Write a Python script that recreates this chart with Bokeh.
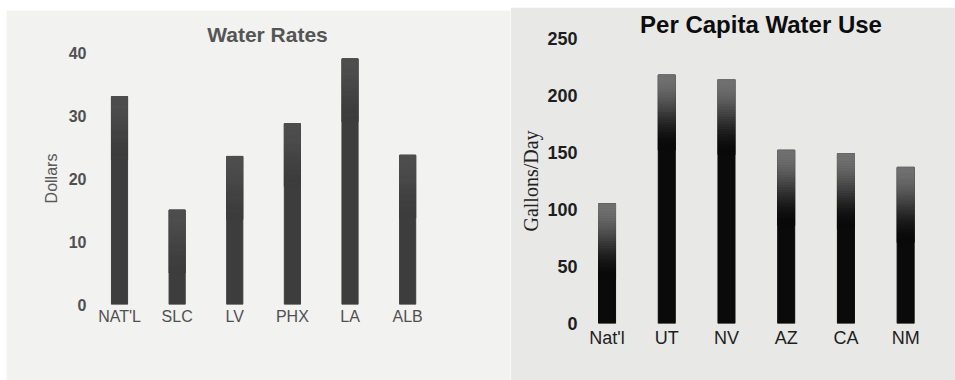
from bokeh.plotting import figure
from bokeh.layouts import row
from bokeh.models import Range1d, FixedTicker
from bokeh.embed import file_html
from bokeh.resources import INLINE

# Water rates by city (dollars)
rate_cities = ["NAT'L", "SLC", "LV", "PHX", "LA", "ALB"]
rate_dollars = [33, 15, 23.5, 28.7, 39, 23.7]
rate_ticks = [0, 10, 20, 30, 40]

# Per capita water use by region (gallons per day)
use_regions = ["Nat'l", "UT", "NV", "AZ", "CA", "NM"]
use_gallons = [105, 218, 214, 152, 149, 137]
use_ticks = [0, 50, 100, 150, 200, 250]


def mix(c0, c1, f):
    r = [round(a + (b - a) * f) for a, b in zip(c0, c1)]
    return "#%02x%02x%02x" % tuple(r)


def gradient_segments(values, depth, top_rgb, base_rgb, steps=30):
    """Split the top part of each bar into thin slices shading from top_rgb to base_rgb."""
    xs, bottoms, tops, colors = [], [], [], []
    for i, v in enumerate(values):
        d = min(depth, v)
        for k in range(steps):
            t = k / (steps - 1)
            ease = t * t * (3 - 2 * t)
            xs.append(i)
            tops.append(v - d * k / steps)
            bottoms.append(v - d * (k + 1) / steps)
            colors.append(mix(top_rgb, base_rgb, ease))
    return dict(x=xs, top=tops, bottom=bottoms, color=colors)


def style(p, labels, ticks, tick_color, tick_size, font, label_size, bg):
    p.xaxis.ticker = FixedTicker(ticks=list(range(len(labels))))
    p.xaxis.major_label_overrides = {i: lab for i, lab in enumerate(labels)}
    p.yaxis.ticker = FixedTicker(ticks=ticks)
    for ax in (p.xaxis, p.yaxis):
        ax.axis_line_color = None
        ax.major_tick_line_color = None
        ax.minor_tick_line_color = None
        ax.major_tick_out = 0
        ax.major_tick_in = 0
        ax.minor_tick_out = 0
        ax.minor_tick_in = 0
        ax.major_label_text_font = font
        ax.major_label_text_color = tick_color
    p.xaxis.major_label_text_font_size = label_size
    p.yaxis.major_label_text_font_size = tick_size
    p.yaxis.major_label_text_font_style = "bold"
    p.xgrid.grid_line_color = None
    p.ygrid.grid_line_color = None
    p.background_fill_color = bg
    p.border_fill_color = bg
    p.outline_line_color = bg
    p.outline_line_width = 2
    p.frame_align = False


# ---- Water Rates ----
left = figure(width=504, height=370, output_backend="svg", toolbar_location=None,
              x_range=Range1d(-0.434, 5.57), y_range=Range1d(0, 40),
              min_border_left=88, min_border_right=70, min_border_top=42,
              min_border_bottom=76, title="Water Rates")
left.margin = (10, 0, 0, 6)
left.title.align = "center"
left.title.offset = -13
left.title.text_font = "Liberation Sans"
left.title.text_font_size = "21px"
left.title.text_font_style = "bold"
left.title.text_color = "#555555"
left.title.standoff = 14
style(left, rate_cities, rate_ticks, "#505050", "16px", "Liberation Sans", "16px", "#f2f2f0")
left.xaxis.major_label_standoff = 3
left.yaxis.major_label_standoff = 8
left.yaxis.axis_label = "Dollars"
left.yaxis.axis_label_text_font = "Liberation Sans"
left.yaxis.axis_label_text_font_size = "16px"
left.yaxis.axis_label_text_font_style = "normal"
left.yaxis.axis_label_text_color = "#5a5a5a"
left.yaxis.axis_label_standoff = 6

rate_width = 0.28
left.vbar(x=list(range(len(rate_cities))), top=rate_dollars, bottom=0,
          width=rate_width, color="#3d3d3d")
left.vbar(source=gradient_segments(rate_dollars, 10, (78, 78, 78), (61, 61, 61)),
          x="x", top="top", bottom="bottom", width=rate_width,
          fill_color="color", line_color="color")

# ---- Per Capita Water Use ----
right = figure(width=445, height=373, output_backend="svg", toolbar_location=None,
               x_range=Range1d(-0.344, 5.5), y_range=Range1d(0, 250),
               min_border_left=76, min_border_right=20, min_border_top=31,
               min_border_bottom=57, title="Per Capita Water Use")
right.margin = (7, 0, 0, 0)
right.title.align = "center"
right.title.text_font = "Liberation Sans"
right.title.text_font_size = "24px"
right.title.text_font_style = "bold"
right.title.text_color = "#0d0d0d"
right.title.standoff = 2
style(right, use_regions, use_ticks, "#1e1e1e", "18px", "Liberation Sans", "18px", "#e8e8e7")
right.xaxis.major_label_standoff = 4
right.yaxis.major_label_standoff = 9
right.yaxis.axis_label = "Gallons/Day"
right.yaxis.axis_label_text_font = "Liberation Serif"
right.yaxis.axis_label_text_font_size = "20px"
right.yaxis.axis_label_text_font_style = "normal"
right.yaxis.axis_label_text_color = "#222222"
right.yaxis.axis_label_standoff = 2

use_width = 0.285
right.vbar(x=list(range(len(use_regions))), top=use_gallons, bottom=0,
           width=use_width, color="#0a0a0a")
right.vbar(source=gradient_segments(use_gallons, 66, (112, 112, 112), (10, 10, 10)),
           x="x", top="top", bottom="bottom", width=use_width,
           fill_color="color", line_color="color")

layout = row(left, right, spacing=0)
open("out.html", "w").write(file_html(layout, INLINE))
